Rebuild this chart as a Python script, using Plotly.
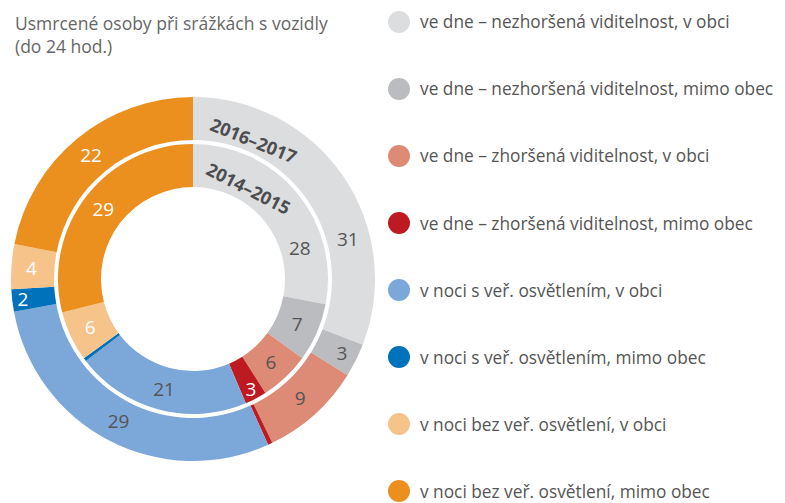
import plotly.graph_objects as go

categories = [
    "ve dne – nezhoršená viditelnost, v obci",
    "ve dne – nezhoršená viditelnost, mimo obec",
    "ve dne – zhoršená viditelnost, v obci",
    "ve dne – zhoršená viditelnost, mimo obec",
    "v noci s veř. osvětlením, v obci",
    "v noci s veř. osvětlením, mimo obec",
    "v noci bez veř. osvětlení, v obci",
    "v noci bez veř. osvětlení, mimo obec",
]
outer_values = [31.0, 3.0, 9.0, 0.4, 29.0, 2.0, 4.0, 22.0]   # 2016–2017
inner_values = [28.0, 7.0, 6.0, 2.6, 21.0, 0.4, 6.0, 29.0]   # 2014–2015
# labels drawn inside the slices (first slice's label placed separately)
outer_labels = ["", "3", "9", "", "29", "2", "4", "22"]
inner_labels = ["", "7", "6", "3", "21", "", "6", "29"]
outer_first_label = "31"
inner_first_label = "28"
colors = ["#dcdddf", "#bbbcc0", "#dd8a76", "#be1a22",
          "#7ca7d9", "#0072bb", "#f6c38b", "#eb8f1f"]
text_colors = ["#555555", "#555555", "#555555", "#ffffff",
               "#555555", "#ffffff", "#ffffff", "#ffffff"]

W, H = 785, 503
OFF = 8                      # default page margin of the html body
FW, FH = W - OFF, H - OFF
FONT = "Open Sans"
cx, cy = 193, 279


def px(x):
    return (x - OFF) / FW


def py(y):
    return 1 - (y - OFF) / FH


def dom(r):
    return dict(x=[px(cx - r), px(cx + r)], y=[py(cy + r), py(cy - r)])


fig = go.Figure()
fig.add_trace(go.Pie(
    values=outer_values, labels=categories, text=outer_labels,
    texttemplate="%{text}", textinfo="text", textposition="inside",
    insidetextorientation="horizontal",
    insidetextfont=dict(color=text_colors, size=19, family=FONT),
    marker=dict(colors=colors, line=dict(width=0)),
    hole=139 / 182, sort=False, direction="clockwise", rotation=0,
    domain=dom(182), showlegend=False, name="2016–2017",
))
fig.add_trace(go.Pie(
    values=inner_values, labels=categories, text=inner_labels,
    texttemplate="%{text}", textinfo="text", textposition="inside",
    insidetextorientation="horizontal",
    insidetextfont=dict(color=text_colors, size=19, family=FONT),
    marker=dict(colors=colors, line=dict(width=0)),
    hole=92 / 135, sort=False, direction="clockwise", rotation=0,
    domain=dom(135), showlegend=False, name="2014–2015",
))

annotations = [
    dict(text="Usmrcené osoby při srážkách s vozidly<br>(do 24 hod.)",
         x=px(14), y=py(10), xanchor="left", yanchor="top",
         xref="paper", yref="paper", showarrow=False, align="left",
         borderpad=0,
         font=dict(family=FONT, size=17.5, color="#666666")),
]

annotations += [
    dict(text="<b>2016–2017</b>", x=px(253), y=py(140), textangle=22),
    dict(text="<b>2014–2015</b>", x=px(248), y=py(188), textangle=27),
]
for a in annotations[1:]:
    a.update(xref="paper", yref="paper", showarrow=False,
             xanchor="center", yanchor="middle",
             font=dict(family=FONT, size=18, color="#4d4d4f"))

annotations += [
    dict(text=outer_first_label, x=px(348), y=py(239)),
    dict(text=inner_first_label, x=px(300), y=py(248)),
]
for a in annotations[3:]:
    a.update(xref="paper", yref="paper", showarrow=False,
             xanchor="center", yanchor="middle",
             font=dict(family=FONT, size=19, color=text_colors[0]))

shapes = []
for i, (cat, col) in enumerate(zip(categories, colors)):
    yc = 22 + 67 * i
    shapes.append(dict(type="circle", xref="paper", yref="paper",
                       x0=px(399 - 11), x1=px(399 + 11),
                       y0=py(yc + 11), y1=py(yc - 11),
                       fillcolor=col, line=dict(width=0)))
    annotations.append(dict(text=cat, x=px(418), y=py(yc),
                            xref="paper", yref="paper", xanchor="left",
                            yanchor="middle", showarrow=False,
                            font=dict(family=FONT, size=17.3, color="#555555")))

fig.update_layout(width=FW, height=FH, margin=dict(l=0, r=0, t=0, b=0),
                  paper_bgcolor="white", plot_bgcolor="white",
                  uniformtext=dict(mode="show", minsize=19),
                  annotations=annotations, shapes=shapes)
fig.write_html("out.html")
